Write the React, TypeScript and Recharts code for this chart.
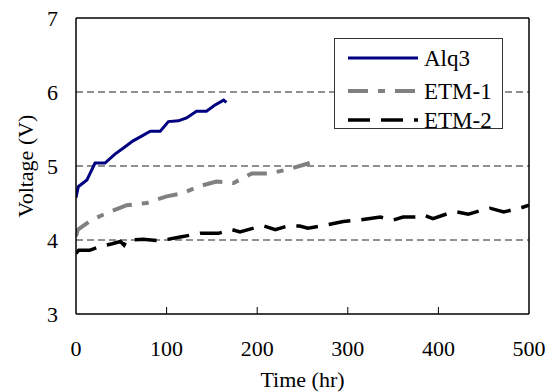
import React from 'react';
import { LineChart, Line, XAxis, YAxis, ReferenceLine, Legend, Label } from 'recharts';

// Alq3 (hr, V)
const alq3Time = [0, 2.5, 12, 21, 32, 43, 52, 63, 72, 82, 93, 102, 113, 122, 133, 144, 153, 163, 166];
const alq3Volt = [4.57, 4.72, 4.81, 5.04, 5.04, 5.16, 5.24, 5.34, 5.4, 5.47, 5.47, 5.6, 5.61, 5.65, 5.74, 5.74, 5.82, 5.89, 5.86];

// ETM-1
const etm1Time = [0, 2, 17, 37, 56, 78, 100, 117, 137, 155, 174, 194, 214, 236, 258];
const etm1Volt = [4.05, 4.14, 4.27, 4.38, 4.47, 4.5, 4.59, 4.63, 4.73, 4.79, 4.77, 4.9, 4.9, 4.96, 5.04];

// ETM-2
const etm2Time = [0, 3, 15, 26, 40, 49, 53, 56, 74, 93, 115, 137, 157, 172, 181, 196, 207, 220, 234, 247, 256, 275, 295, 313, 336, 350, 361, 376, 383, 394, 411, 420, 433, 450, 457, 472, 490, 500];
const etm2Volt = [3.82, 3.86, 3.86, 3.91, 3.95, 3.98, 3.93, 4.0, 4.01, 3.99, 4.04, 4.09, 4.09, 4.14, 4.11, 4.16, 4.19, 4.14, 4.19, 4.19, 4.16, 4.2, 4.25, 4.27, 4.31, 4.27, 4.31, 4.31, 4.34, 4.29, 4.36, 4.38, 4.35, 4.41, 4.43, 4.38, 4.43, 4.47];

const xTicks = [0, 100, 200, 300, 400, 500];
const yTicks = [3, 4, 5, 6, 7];
const gridValues = [4, 5, 6];

const toPoints = (ts: number[], vs: number[]) => ts.map((t, i) => ({ t, v: vs[i] }));
const alq3 = toPoints(alq3Time, alq3Volt);
const etm1 = toPoints(etm1Time, etm1Volt);
const etm2 = toPoints(etm2Time, etm2Volt);

const FONT = "'Liberation Serif', 'Times New Roman', serif";

const seriesStyle: Record<string, { color: string; dash?: string; width: number }> = {
  Alq3: { color: '#000080', width: 3 },
  'ETM-1': { color: '#808080', dash: '20 10 7 10', width: 4 },
  'ETM-2': { color: '#000000', dash: '22 11', width: 3.5 },
};
const legendOrder = ['Alq3', 'ETM-1', 'ETM-2'];
const legendRows = [20, 53, 82];

function XTick({ x, y, payload }: any) {
  return (
    <g>
      {payload.value > 0 && payload.value < 500 && (
        <line x1={x} x2={x} y1={y} y2={y - 7} stroke="#000" strokeWidth={1} />
      )}
      <text x={x} y={y + 42} textAnchor="middle" style={{ fontFamily: FONT }} fontSize={22} fill="#000">
        {payload.value}
      </text>
    </g>
  );
}

function YTick({ x, y, payload }: any) {
  return (
    <text x={x - 18} y={y} dy="0.36em" textAnchor="end" style={{ fontFamily: FONT }} fontSize={22} fill="#000">
      {payload.value}
    </text>
  );
}

function VoltLabel({ viewBox }: any) {
  const cx = viewBox.x + 33;
  const cy = viewBox.y + viewBox.height / 2;
  return (
    <text x={cx} y={cy} transform={`rotate(-90, ${cx}, ${cy})`} textAnchor="middle" style={{ fontFamily: FONT }} fontSize={22} fill="#000">
      Voltage (V)
    </text>
  );
}

function LegendBox() {
  return (
    <svg width={169} height={91} style={{ display: 'block', overflow: 'visible' }}>
      <rect x={0.5} y={0.5} width={168} height={90} fill="#fff" stroke="#333" strokeWidth={1} />
      {legendOrder.map((name, i) => {
        const s = seriesStyle[name];
        return (
          <g key={name}>
            <line x1={14} x2={84} y1={legendRows[i]} y2={legendRows[i]} stroke={s.color} strokeWidth={s.width} strokeDasharray={s.dash} />
            <text x={90} y={legendRows[i]} dy="0.36em" style={{ fontFamily: FONT }} fontSize={23} fill="#000">
              {name}
            </text>
          </g>
        );
      })}
    </svg>
  );
}

export default function App() {
  return (
    <div style={{ position: 'absolute', left: 0, top: 0, width: 549, height: 392, background: '#fff' }}>
      <LineChart width={549} height={392} margin={{ top: 18, right: 20, bottom: 0, left: 0 }}>
        {gridValues.map((g) => (
          <ReferenceLine key={g} y={g} stroke="#222" strokeWidth={1} strokeDasharray="7 4" />
        ))}
        <ReferenceLine y={7} stroke="#000" strokeWidth={1.5} />
        <ReferenceLine x={500} stroke="#000" strokeWidth={1.5} />
        <XAxis
          type="number"
          dataKey="t"
          domain={[0, 500]}
          ticks={xTicks}
          height={78}
          tickSize={0}
          tickMargin={0}
          tickLine={false}
          tick={<XTick />}
          axisLine={{ stroke: '#000', strokeWidth: 1.5 }}
          allowDataOverflow
        >
          <Label value="Time (hr)" position="insideBottom" offset={5} style={{ fontFamily: FONT }} fontSize={22} fill="#000" />
        </XAxis>
        <YAxis
          type="number"
          domain={[3, 7]}
          ticks={yTicks}
          width={76}
          tickSize={0}
          tickMargin={0}
          tickLine={false}
          tick={<YTick />}
          axisLine={{ stroke: '#000', strokeWidth: 1.5 }}
          label={<VoltLabel />}
        />
        <Legend
          layout="vertical"
          align="center"
          verticalAlign="middle"
          content={<LegendBox />}
          wrapperStyle={{ left: 334, top: 38, width: 169, height: 91 }}
        />
        <Line data={alq3} dataKey="v" name="Alq3" stroke={seriesStyle.Alq3.color} strokeWidth={seriesStyle.Alq3.width} dot={false} type="linear" isAnimationActive={false} />
        <Line data={etm1} dataKey="v" name="ETM-1" stroke={seriesStyle['ETM-1'].color} strokeWidth={seriesStyle['ETM-1'].width} strokeDasharray={seriesStyle['ETM-1'].dash} dot={false} type="linear" isAnimationActive={false} />
        <Line data={etm2} dataKey="v" name="ETM-2" stroke={seriesStyle['ETM-2'].color} strokeWidth={seriesStyle['ETM-2'].width} strokeDasharray={seriesStyle['ETM-2'].dash} dot={false} type="linear" isAnimationActive={false} />
      </LineChart>
    </div>
  );
}
